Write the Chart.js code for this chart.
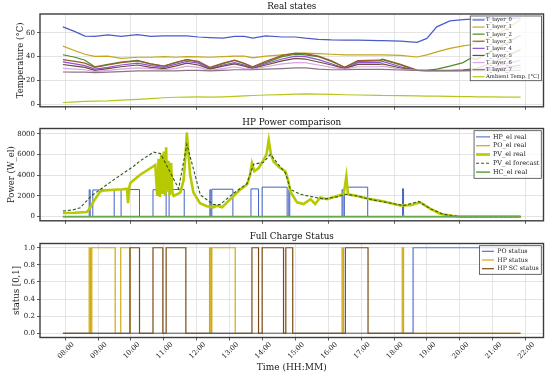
<!DOCTYPE html>
<html>
<head>
<meta charset="utf-8">
<script src="https://cdn.jsdelivr.net/npm/chart.js@4.4.1/dist/chart.umd.min.js"></script>
<style>
    body { margin: 0; background: #ffffff; }
    #wrap { position: relative; width: 550px; height: 377px; }
    canvas { position: absolute; left: 0; }
</style>
</head>
<body>
<div id="wrap">
    <canvas id="states_chart" width="550" height="113" style="top:0px"></canvas>
    <canvas id="power_chart" width="550" height="114" style="top:113px"></canvas>
    <canvas id="status_chart" width="550" height="149" style="top:228px"></canvas>
</div>
<script>
// time axis (decimal hours)
const x_min = 7.234;
const x_max = 22.546;
const hour_ticks = [8, 9, 10, 11, 12, 13, 14, 15, 16, 17, 18, 19, 20, 21, 22];
const hour_labels = ['08:00', '09:00', '10:00', '11:00', '12:00', '13:00', '14:00', '15:00',
    '16:00', '17:00', '18:00', '19:00', '20:00', '21:00', '22:00'];

// --- Real states ---
const state_times = [7.93, 8.3, 8.6, 8.9, 9.3, 9.7, 10.2, 10.6, 11.0, 11.35, 11.7, 12.05, 12.4, 12.8,
    13.15, 13.45, 13.7, 14.1, 14.6, 15.0, 15.3, 15.7, 16.1, 16.5, 16.9, 17.55, 17.65, 18.2, 18.7,
    19.0, 19.3, 19.7, 20.1, 20.35, 20.5, 21.0, 21.4, 21.85];
const t_layer_0 = [65, 61, 57.3, 57, 58.3, 57, 58.5, 57, 57.5, 57.5, 57.5, 56.5, 56, 55.5, 57, 57, 55.5,
    57.4, 56.5, 56.5, 55.5, 54.5, 54, 53.8, 53.8, 53.5, 53.4, 53, 52, 55.3, 65, 70, 71, 71.5, 71.8, 72, 72.2, 72.3];
const t_layer_1 = [48.8, 45, 42, 40.3, 40.5, 38.5, 39.5, 39.5, 40, 39.5, 40, 39.8, 39.5, 40, 40.5, 40.5, 39,
    40.5, 41.5, 42.5, 43, 42.5, 42, 41.5, 41.5, 41.5, 41.5, 41, 39.7, 41.5, 44, 47, 49, 50, 51.2, 57, 63, 71];
const t_layer_2 = [41.6, 39.5, 37, 31.5, 33.5, 35.5, 36.8, 34, 32, 35, 37.5, 35.5, 30.5, 34, 36.8, 34, 31,
    35, 40, 42, 41.5, 40, 36, 31, 36, 36.5, 37.5, 33, 28.5, 28.5, 29.5, 32, 35, 39, 37.6, 45, 51, 58];
const t_layer_3 = [37.5, 36, 34.5, 31, 33, 35, 36.5, 34, 32, 35, 37.5, 36, 31, 34.5, 37, 34.5, 31.5,
    36, 41, 43, 42.5, 40.5, 36.5, 31, 36.7, 37, 38, 33.5, 28.7, 28.5, 28.5, 28.5, 29, 29.5, 30, 35, 40, 46];
const t_layer_4 = [35.6, 34, 32.5, 29.5, 31, 33, 34.5, 32.5, 31, 33.5, 36, 34.5, 30, 33, 35, 33, 30.5,
    34, 38, 40.5, 40, 37.5, 34, 30, 35, 35, 36, 31.5, 28.5, 28.3, 28.3, 28.3, 28.5, 28.8, 29, 31, 34, 37];
const t_layer_5 = [33.4, 32, 31, 28.5, 30, 31.5, 33, 31, 30, 32, 34.5, 33, 29.5, 32, 34, 32, 30,
    33, 36.5, 38.5, 38, 35.5, 33, 30, 33.5, 33.5, 34, 30.5, 28.5, 28.3, 28.3, 28.3, 28.3, 28.4, 28.5, 29.5, 31, 33];
const t_layer_6 = [30.1, 29.5, 29, 27.5, 28.5, 29.5, 30.5, 30, 29, 30, 32, 31, 28.5, 30, 31.5, 30, 29.5,
    31.5, 34, 35, 35, 33, 31, 29.5, 31.5, 31.5, 32, 29.5, 28.5, 28.3, 28.3, 28.3, 28.3, 28.3, 28.3, 28.8, 29.5, 31];
const t_layer_7 = [27.1, 27, 27, 26.6, 27, 27.5, 28, 28, 28, 28, 28.5, 28.5, 28, 28.5, 29, 29, 29,
    29.5, 30, 30.5, 30.5, 29.5, 29, 29, 29.3, 29.3, 29.3, 28.8, 28.5, 28.3, 28.2, 28.2, 28.2, 28.2, 28.2, 28.2, 28.3, 28.5];
const ambient_temp = [1.5, 2, 2.5, 2.7, 2.8, 3.5, 4.2, 4.8, 5.5, 5.9, 6.1, 6.2, 6.1, 6.3, 6.6, 7, 7.4,
    7.8, 8.2, 8.6, 8.8, 8.6, 8.3, 8, 7.8, 7.5, 7.4, 7.2, 7, 6.9, 6.8, 6.7, 6.5, 6.4, 6.3, 6.2, 6.1, 6.1];
const temp_ticks = [0, 20, 40, 60];

// --- HP Power comparison ---
const hp_el_times = [7.93, 8.73, 8.76, 8.84, 9.49, 9.70, 10.26, 10.67, 11.07, 11.16, 11.62, 12.40, 12.43,
    12.46, 13.10, 13.65, 13.88, 13.99, 14.75, 14.80, 14.83, 16.42, 16.45, 16.49, 17.20, 18.26, 18.29, 21.85];
const hp_el_real = [0, 2600, 0, 2580, 0, 2620, 0, 2600, 0, 2620, 0, 2600, 0,
    2650, 0, 2680, 0, 2850, 0, 2600, 0, 2600, 0, 2850, 0, 2700, 0, 0];
const po_el_times = [7.93, 18.26, 18.29, 18.33, 21.85];
const po_el_real = [0, 0, 120, 0, 0];
const pv_el_times = [7.93, 8.3, 8.66, 8.74, 8.85, 9.06, 9.2, 9.5, 9.75, 9.88, 9.91, 9.95, 9.98, 10.28,
    10.59, 10.74, 10.8, 10.84, 10.88, 10.92, 10.96, 11.0, 11.04, 11.07, 11.1, 11.14, 11.18, 11.22, 11.26,
    11.3, 11.5, 11.6, 11.66, 11.70, 11.75, 11.8, 11.9, 12.1, 12.31, 12.5, 12.62, 12.77, 12.9, 13.12, 13.33,
    13.53, 13.62, 13.68, 13.75, 13.88, 14.03, 14.12, 14.19, 14.26, 14.34, 14.5, 14.7, 14.78, 14.85, 15.05,
    15.25, 15.46, 15.6, 15.76, 15.96, 16.27, 16.47, 16.55, 16.6, 16.88, 17.28, 17.69, 18.19, 18.5, 18.8,
    19.11, 19.41, 19.72, 20.0, 21.85];
const pv_el_real = [350, 380, 440, 750, 1400, 2420, 2540, 2600, 2650, 2700, 1300, 2800, 3260, 4050,
    4680, 4990, 2000, 5600, 1900, 6000, 2200, 6300, 2000, 6700, 2400, 5400, 2100, 5200, 2300,
    2000, 2320, 3500, 6000, 8120, 6000, 4050, 2320, 1300, 1000, 900, 1050, 900, 1300, 2000, 2630,
    3100, 4000, 5150, 4400, 4680, 5460, 6000, 7400, 6000, 5300, 4800, 4360, 3500, 2400, 1380,
    1220, 1690, 1220, 1850, 1690, 2000, 2160, 3890, 2160, 2000, 1690, 1470, 1070, 1100, 1380,
    750, 280, 90, 0, 0];
const pv_fc_times = [7.93, 8.25, 8.46, 8.56, 8.81, 9.47, 10.08, 10.28, 10.69, 10.9, 11.14, 11.45, 11.70,
    12.11, 12.51, 12.71, 13.12, 13.53, 13.73, 14.03, 14.24, 14.70, 14.85, 15.15, 15.86, 16.27, 16.52,
    16.88, 17.38, 18.3, 18.75, 19.11, 19.51, 20.0, 21.85];
const pv_el_forecast = [540, 660, 850, 1220, 2040, 3550, 4870, 5400, 6240, 6100, 4610, 2700, 7000,
    2100, 1160, 1160, 2260, 3200, 5080, 5240, 6020, 4200, 2630, 2160, 1690, 1910, 2160,
    2000, 1600, 1070, 1470, 750, 220, 0, 0];
const hc_el_times = [7.93, 21.85];
const hc_el_real = [0, 0];
const power_ticks = [0, 2000, 4000, 6000, 8000];

// --- Full Charge Status ---
const po_status_times = [7.93, 18.58, 21.85];
const po_status = [0, 1, 1];
const hp_status_times = [7.93, 8.73, 8.77, 8.81, 9.52, 9.69, 9.97, 12.39, 12.43, 12.46, 13.17,
    16.42, 16.46, 18.25, 18.29, 21.85];
const hp_status = [0, 1, 0, 1, 0, 1, 0, 1, 0, 1, 0, 1, 0, 1, 0, 0];
const sc_status_times = [7.93, 9.97, 10.26, 10.67, 10.97, 11.07, 11.67, 13.68, 13.88, 13.99, 14.64,
    14.71, 14.92, 16.52, 17.21, 21.85];
const hp_sc_status = [0, 1, 0, 1, 0, 1, 0, 1, 0, 1, 0, 1, 0, 1, 0, 0];
const status_ticks = [0, 0.2, 0.4, 0.6, 0.8, 1.0];

Chart.defaults.font.family = "'DejaVu Serif', serif";
Chart.defaults.color = '#1a1a1a';

function points(times, values) {
    return times.map((t, i) => ({ x: t, y: values[i] }));
}

function line(label, times, values, color, width, extra) {
    return Object.assign({
        label: label,
        data: points(times, values),
        borderColor: color,
        backgroundColor: color,
        borderWidth: width,
        pointRadius: 0,
        fill: false
    }, extra || {});
}

// frame around the plot area (matplotlib spines)
const frame_plugin = {
    id: 'frame',
    afterDatasetsDraw(chart) {
        const a = chart.chartArea, ctx = chart.ctx;
        ctx.save();
        ctx.strokeStyle = '#3c3c3c';
        ctx.lineWidth = 1.4;
        ctx.strokeRect(a.left, a.top, a.right - a.left, a.bottom - a.top);
        ctx.restore();
    }
};

// title centred over the axes, not the whole canvas
const panel_title = {
    id: 'panel_title',
    afterDraw(chart, args, o) {
        const a = chart.chartArea, ctx = chart.ctx;
        ctx.save();
        ctx.font = o.size + "px 'DejaVu Serif'";
        ctx.fillStyle = '#111111';
        ctx.textAlign = 'center';
        ctx.textBaseline = 'middle';
        ctx.fillText(o.text, (a.left + a.right) / 2, o.y);
        ctx.restore();
    }
};

// legend box drawn inside the upper right corner
const box_legend = {
    id: 'box_legend',
    afterDraw(chart, args, o) {
        const a = chart.chartArea, ctx = chart.ctx;
        const items = chart.data.datasets;
        ctx.save();
        ctx.font = o.font_size + "px 'DejaVu Serif'";
        const text_w = Math.max(...items.map(d => ctx.measureText(d.label).width));
        const w = o.pad_x + o.line_len + o.gap + text_w + o.pad_x;
        const h = items.length * o.row_h + 2 * o.pad_y;
        const x = a.right - o.margin - w;
        const y = a.top + o.margin;
        ctx.fillStyle = 'rgba(255,255,255,0.8)';
        ctx.fillRect(x, y, w, h);
        ctx.strokeStyle = '#444444';
        ctx.lineWidth = 0.8;
        ctx.strokeRect(x, y, w, h);
        items.forEach((d, i) => {
            const cy = y + o.pad_y + o.row_h * (i + 0.5);
            ctx.beginPath();
            ctx.setLineDash(d.borderDash || []);
            ctx.strokeStyle = d.borderColor;
            ctx.lineWidth = d.borderWidth;
            ctx.moveTo(x + o.pad_x, cy);
            ctx.lineTo(x + o.pad_x + o.line_len, cy);
            ctx.stroke();
            ctx.setLineDash([]);
            ctx.fillStyle = '#1a1a1a';
            ctx.textBaseline = 'middle';
            ctx.fillText(d.label, x + o.pad_x + o.line_len + o.gap, cy);
        });
        ctx.restore();
    }
};

function time_axis(step, show_labels, height) {
    return {
        type: 'linear',
        min: x_min,
        max: x_max,
        afterBuildTicks: s => {
            s.ticks = hour_ticks.filter(h => (h - 8) % step === 0).map(v => ({ value: v }));
        },
        afterFit: s => { s.height = height; },
        border: { display: false },
        grid: { color: '#dddddd', lineWidth: 0.8, tickLength: 3, tickColor: '#333333', tickWidth: 0.8 },
        ticks: {
            display: show_labels,
            autoSkip: false,
            maxRotation: 45,
            minRotation: 45,
            labelOffset: 8,
            padding: 0,
            font: { size: 7 },
            callback: v => hour_labels[hour_ticks.indexOf(v)]
        },
        title: {
            display: show_labels,
            text: 'Time (HH:MM)',
            font: { size: 9 },
            padding: { top: 0, bottom: 3.9 }
        }
    };
}

function value_axis(min, max, tick_values, title, title_pad, fmt) {
    return {
        type: 'linear',
        min: min,
        max: max,
        afterBuildTicks: s => { s.ticks = tick_values.map(v => ({ value: v })); },
        afterFit: s => { s.width = 40; },
        border: { display: false },
        grid: { color: '#dddddd', lineWidth: 0.8, tickLength: 3, tickColor: '#333333', tickWidth: 0.8 },
        ticks: { font: { size: 7 }, padding: 2, callback: fmt },
        title: { display: true, text: title, font: { size: 8.5 }, padding: { top: title_pad, bottom: 0 } }
    };
}

function panel(canvas_id, title, title_y, area_top, datasets, x_axis, y_axis, legend_opts) {
    datasets.forEach((d, i) => { if (d.order === undefined) d.order = -i; });
    return new Chart(document.getElementById(canvas_id), {
        type: 'line',
        data: { datasets: datasets },
        options: {
            responsive: false,
            animation: false,
            devicePixelRatio: 1,
            layout: { padding: { left: 0, right: 6.5, top: area_top, bottom: 0 } },
            scales: { x: x_axis, y: y_axis },
            plugins: {
                legend: { display: false },
                tooltip: { enabled: false },
                title: { display: false },
                panel_title: { text: title, y: title_y, size: 8.8 },
                box_legend: legend_opts
            }
        },
        plugins: [frame_plugin, panel_title, box_legend]
    });
}

panel('states_chart', 'Real states', 7, 14, [
    line('T_layer_0', state_times, t_layer_0, '#4a5ccb', 1.2),
    line('T_layer_1', state_times, t_layer_1, '#c4a71a', 1.2),
    line('T_layer_2', state_times, t_layer_2, '#4f8a22', 1.2),
    line('T_layer_3', state_times, t_layer_3, '#9a5a2a', 1.2),
    line('T_layer_4', state_times, t_layer_4, '#8c52d6', 1.2),
    line('T_layer_5', state_times, t_layer_5, '#6e4b3c', 1.2),
    line('T_layer_6', state_times, t_layer_6, '#d8a6e2', 1.2),
    line('T_layer_7', state_times, t_layer_7, '#8a7482', 1.2),
    line('Ambient Temp. [°C]', state_times, ambient_temp, '#b6c61e', 1.2)
], time_axis(2, false, 4),
   value_axis(-2.1, 75.8, temp_ticks, 'Temperature (°C)', 15.6, v => String(v)),
   { font_size: 5.3, row_h: 7.1, line_len: 12, gap: 1.5, pad_x: 2.3, pad_y: 0.4, margin: 2 });

// HP power and status series hold their value until the next time stamp
panel('power_chart', 'HP Power comparison', 9.7, 15.5, [
    line('HP_el real', hp_el_times, hp_el_real, '#4361c2', 1, { stepped: true }),
    line('PO_el real', po_el_times, po_el_real, '#d2a21c', 1.2),
    line('PV_el real', pv_el_times, pv_el_real, '#b7c900', 2.6),
    line('PV_el forecast', pv_fc_times, pv_el_forecast, '#2c5a1c', 1.1, { borderDash: [3, 2] }),
    line('HC_el real', hc_el_times, hc_el_real, '#6aa84a', 1.6)
], time_axis(2, false, 4.3),
   value_axis(-406, 8526, power_ticks, 'Power (W_el)', 6.6, v => String(v)),
   { font_size: 6.4, row_h: 8.8, line_len: 14, gap: 3, pad_x: 2, pad_y: 1.8, margin: 2.2 });

panel('status_chart', 'Full Charge Status', 8.7, 15.5, [
    line('PO status', po_status_times, po_status, '#5a6fd6', 1.2, { stepped: true, order: 1 }),
    line('HP status', hp_status_times, hp_status, '#d0aa14', 1.2, { stepped: true, order: 2 }),
    line('HP SC status', sc_status_times, hp_sc_status, '#7a4a14', 1.2, { stepped: true, order: 0 })
], time_axis(1, true, 39.5),
   value_axis(-0.05, 1.05, status_ticks, 'status [0,1]', 12, v => v.toFixed(1)),
   { font_size: 6.2, row_h: 8.7, line_len: 12, gap: 3.4, pad_x: 2.5, pad_y: 1.25, margin: 2.2 });
</script>
</body>
</html>
